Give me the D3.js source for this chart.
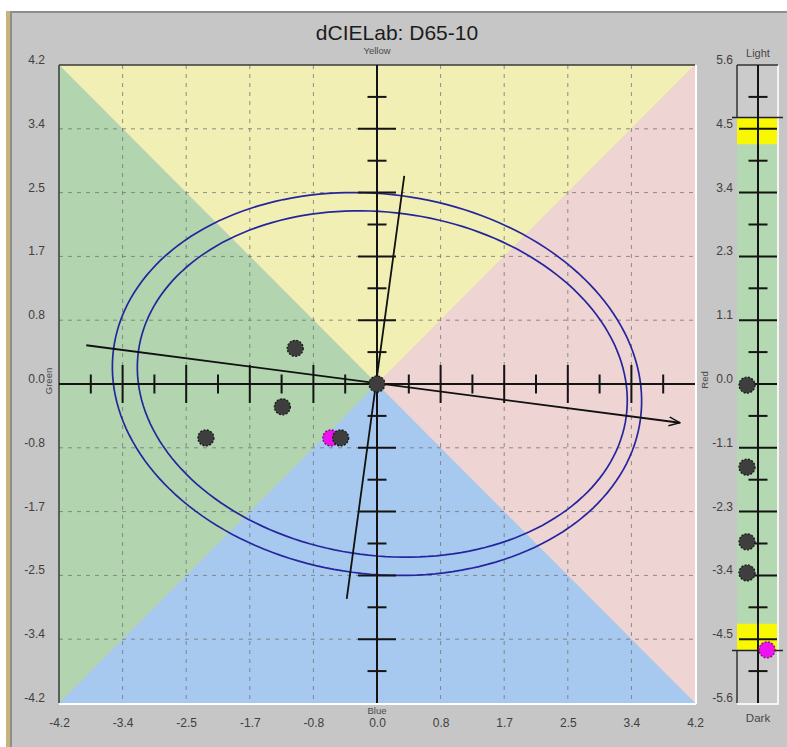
<!DOCTYPE html>
<html>
<head>
<meta charset="utf-8">
<script src="https://cdn.jsdelivr.net/npm/d3@7"></script>
<style>
  html, body { margin: 0; padding: 0; background: #ffffff; }
  svg { display: block; font-family: "Liberation Sans", Arial, sans-serif; }
</style>
</head>
<body>
<div id="chart"></div>
<script>
// ---- data ----
const abTicks = [-4.2, -3.36, -2.52, -1.68, -0.84, 0, 0.84, 1.68, 2.52, 3.36, 4.2];
const lTicks = [-5.64, -4.512, -3.384, -2.256, -1.128, 0, 1.128, 2.256, 3.384, 4.512, 5.64];
const hueNames = ["Yellow", "Red", "Blue", "Green"];
const lightNames = ["Light", "Dark"];

// batch samples (da*, db*, dL*)
const sampleA = [0, -1.08, -1.25, -2.26, -0.48];
const sampleB = [0, 0.47, -0.30, -0.71, -0.71];
const sampleL = [-0.02, -1.47, -2.79, -3.34];
// reference sample
const refA = [-0.61];
const refB = [-0.71];
const refL = [-4.70];

// tolerance ellipses (semi-axes in dE units, rotation in degrees)
const ellipseSemiMajor = [3.51, 3.25];
const ellipseSemiMinor = [2.50, 2.26];
const ellipseCenterA = [0, 0.07];
const ellipseAngle = [-7.5, -7.5];

// principal axis lines
const majorAxisEnds = [[-3.84, 0.51], [4.0, -0.51]];
const minorAxisEnds = [[-0.40, -2.83], [0.36, 2.74]];

// lightness tolerance band and limit
const lBand = [4.24, 4.70];
const lLimit = 4.71;

// ---- layout ----
const W = 787, H = 747;
const svg = d3.select("#chart").append("svg").attr("width", W).attr("height", H);

const x = d3.scaleLinear().domain([-4.2, 4.2]).range([59, 695]);
const y = d3.scaleLinear().domain([-4.2, 4.2]).range([703, 65]);
const yL = d3.scaleLinear().domain([-5.64, 5.64]).range([703, 65]);
const lAxisX = 758, lPanelL = 737, lPanelR = 778;

// window frame
svg.append("rect").attr("x", 0).attr("y", 0).attr("width", W).attr("height", H).attr("fill", "#ffffff");
svg.append("rect").attr("x", 6).attr("y", 11).attr("width", W - 6).attr("height", H - 11).attr("fill", "#c6b47c");
svg.append("rect").attr("x", 10).attr("y", 11).attr("width", W - 10).attr("height", H - 11).attr("fill", "#8e8e8e");
svg.append("rect").attr("x", 12).attr("y", 13).attr("width", W - 12).attr("height", H - 13).attr("fill", "#c6c6c6");

// title
svg.append("text").attr("x", 397).attr("y", 40).attr("text-anchor", "middle")
  .attr("font-size", 21).attr("fill", "#1c1c1c").text("dCIELab: D65-10");

// ---- a*b* plane ----
const plot = svg.append("g");
const c = [0, 0];
const TL = [-4.2, 4.2], TR = [4.2, 4.2], BR = [4.2, -4.2], BL = [-4.2, -4.2];
const quadrants = [
  { pts: [TL, TR, c], fill: "#f1efb3" },
  { pts: [TR, BR, c], fill: "#efd4d4" },
  { pts: [BR, BL, c], fill: "#a8c9ef" },
  { pts: [BL, TL, c], fill: "#b2d5b0" }
];
plot.selectAll("path.quad").data(quadrants).join("path")
  .attr("class", "quad")
  .attr("d", d => "M" + d.pts.map(p => x(p[0]) + "," + y(p[1])).join("L") + "Z")
  .attr("fill", d => d.fill);

// dashed grid
const gridVals = abTicks.filter(v => Math.abs(v) < 4.2 && v !== 0);
plot.selectAll("line.gx").data(gridVals).join("line")
  .attr("x1", d => x(d)).attr("x2", d => x(d)).attr("y1", y(4.2)).attr("y2", y(-4.2))
  .attr("stroke", "#6f6f6f").attr("stroke-opacity", 0.75).attr("stroke-dasharray", "4,5");
plot.selectAll("line.gy").data(gridVals).join("line")
  .attr("y1", d => y(d)).attr("y2", d => y(d)).attr("x1", x(-4.2)).attr("x2", x(4.2))
  .attr("stroke", "#6f6f6f").attr("stroke-opacity", 0.75).attr("stroke-dasharray", "4,5");

// plot border: sunken look
plot.append("line").attr("x1", x(-4.2)).attr("x2", x(4.2)).attr("y1", y(4.2)).attr("y2", y(4.2))
  .attr("stroke", "#3a3a3a").attr("stroke-width", 1.5);
plot.append("line").attr("x1", x(-4.2)).attr("x2", x(-4.2)).attr("y1", y(4.2)).attr("y2", y(-4.2))
  .attr("stroke", "#3a3a3a").attr("stroke-width", 1.5);
plot.append("line").attr("x1", x(-4.2)).attr("x2", x(4.2) + 1).attr("y1", y(-4.2) + 1).attr("y2", y(-4.2) + 1)
  .attr("stroke", "#ffffff").attr("stroke-width", 2);
plot.append("line").attr("x1", x(4.2) + 1).attr("x2", x(4.2) + 1).attr("y1", y(4.2)).attr("y2", y(-4.2) + 1)
  .attr("stroke", "#ffffff").attr("stroke-width", 2);

// tolerance ellipses
const ellLine = d3.line().x(p => x(p[0])).y(p => y(p[1]));
const tSteps = d3.range(0, 361, 2).map(t => t * Math.PI / 180);
const ellipses = ellipseSemiMajor.map((a, i) => {
  const b = ellipseSemiMinor[i], th = ellipseAngle[i] * Math.PI / 180, ca = ellipseCenterA[i];
  return tSteps.map(t => [
    ca + a * Math.cos(t) * Math.cos(th) - b * Math.sin(t) * Math.sin(th),
    a * Math.cos(t) * Math.sin(th) + b * Math.sin(t) * Math.cos(th)
  ]);
});
plot.selectAll("path.ell").data(ellipses).join("path")
  .attr("class", "ell").attr("d", ellLine)
  .attr("fill", "none").attr("stroke", "#26269c").attr("stroke-width", 1.7);

// cross axes with ticks
const axisStroke = "#141414";
plot.append("line").attr("x1", x(-4.2)).attr("x2", x(4.2)).attr("y1", y(0)).attr("y2", y(0))
  .attr("stroke", axisStroke).attr("stroke-width", 2);
plot.append("line").attr("x1", x(0)).attr("x2", x(0)).attr("y1", y(4.2)).attr("y2", y(-4.2))
  .attr("stroke", axisStroke).attr("stroke-width", 2);
const majorTicks = abTicks.filter(v => Math.abs(v) < 4.2 && v !== 0);
const minorTicks = abTicks.slice(0, -1).map((v, i) => (v + abTicks[i + 1]) / 2);
const crossTicks = majorTicks.map(v => ({ v, len: 19 })).concat(minorTicks.map(v => ({ v, len: 9.5 })));
plot.selectAll("line.tx").data(crossTicks).join("line")
  .attr("x1", d => x(d.v)).attr("x2", d => x(d.v))
  .attr("y1", d => y(0) - d.len).attr("y2", d => y(0) + d.len)
  .attr("stroke", axisStroke).attr("stroke-width", 2);
plot.selectAll("line.ty").data(crossTicks).join("line")
  .attr("y1", d => y(d.v)).attr("y2", d => y(d.v))
  .attr("x1", d => x(0) - d.len).attr("x2", d => x(0) + d.len)
  .attr("stroke", axisStroke).attr("stroke-width", 2);

// principal axis lines
const defs = svg.append("defs");
defs.append("marker").attr("id", "arrowOpen").attr("viewBox", "0 0 12 12")
  .attr("refX", 11).attr("refY", 6).attr("markerWidth", 12).attr("markerHeight", 12)
  .attr("markerUnits", "userSpaceOnUse").attr("orient", "auto")
  .append("path").attr("d", "M0,1.5 L11,6 L0,10.5").attr("fill", "none")
  .attr("stroke", "#111").attr("stroke-width", 1.4);
plot.append("path").attr("d", ellLine(majorAxisEnds)).attr("fill", "none")
  .attr("stroke", "#111").attr("stroke-width", 1.8).attr("marker-end", "url(#arrowOpen)");
plot.append("path").attr("d", ellLine(minorAxisEnds)).attr("fill", "none")
  .attr("stroke", "#111").attr("stroke-width", 1.8);

// sample points
const dotR = 8;
const refPts = refA.map((a, i) => ({ a, b: refB[i] }));
const samplePts = sampleA.map((a, i) => ({ a, b: sampleB[i] }));
plot.selectAll("circle.ref").data(refPts).join("circle")
  .attr("cx", d => x(d.a)).attr("cy", d => y(d.b)).attr("r", dotR)
  .attr("fill", "#f011f0").attr("stroke", "#6a1a6a").attr("stroke-width", 1.3).attr("stroke-dasharray", "2,1.5");
plot.selectAll("circle.smp").data(samplePts).join("circle")
  .attr("cx", d => x(d.a)).attr("cy", d => y(d.b)).attr("r", dotR)
  .attr("fill", "#3e3e3e").attr("stroke", "#1a1a1a").attr("stroke-width", 1.3).attr("stroke-dasharray", "2,1.5");

// tick labels
function styleAxis(g) {
  g.select(".domain").remove();
  g.attr("font-family", "'Liberation Sans', Arial, sans-serif").attr("font-size", 12);
  g.selectAll("text").attr("fill", "#404040");
}
const fmt = v => v.toFixed(1);
svg.append("g").attr("transform", `translate(${x(-4.2)},0)`)
  .call(d3.axisLeft(y).tickValues(abTicks).tickSize(0).tickPadding(14).tickFormat(fmt))
  .call(styleAxis)
  .call(g => g.selectAll("text").attr("dy", null).attr("y", -1.5));
svg.append("g").attr("transform", `translate(0,${y(-4.2)})`)
  .call(d3.axisBottom(x).tickValues(abTicks).tickSize(0).tickPadding(0).tickFormat(fmt))
  .call(styleAxis)
  .call(g => g.selectAll("text").attr("dy", null).attr("y", 24));

// hue direction labels
const hueStyle = sel => sel.attr("font-size", 9.5).attr("fill", "#4a4a4a").attr("text-anchor", "middle");
svg.append("text").attr("x", x(0)).attr("y", 54).text(hueNames[0]).call(hueStyle);
svg.append("text").attr("x", x(0)).attr("y", 714).text(hueNames[2]).call(hueStyle);
svg.append("text").attr("transform", `translate(52,${y(0) - 3}) rotate(-90)`).text(hueNames[3]).call(hueStyle);
svg.append("text").attr("transform", `translate(708,${y(0) - 4}) rotate(-90)`).text(hueNames[1]).call(hueStyle);

// ---- lightness bar ----
const lp = svg.append("g");
lp.append("rect").attr("x", lPanelL).attr("y", yL(5.64)).attr("width", lPanelR - lPanelL)
  .attr("height", yL(-5.64) - yL(5.64)).attr("fill", "#cbcbcb");
lp.append("rect").attr("x", lPanelL).attr("y", yL(lBand[0])).attr("width", lPanelR - lPanelL)
  .attr("height", yL(-lBand[0]) - yL(lBand[0])).attr("fill", "#b4d8b2");
[[lBand[1], lBand[0]], [-lBand[0], -lBand[1]]].forEach(r => {
  lp.append("rect").attr("x", lPanelL).attr("y", yL(r[0])).attr("width", lPanelR - lPanelL)
    .attr("height", yL(r[1]) - yL(r[0])).attr("fill", "#f8f800");
});
// panel edges
lp.append("line").attr("x1", lPanelR).attr("x2", lPanelR).attr("y1", yL(5.64)).attr("y2", yL(-5.64) + 1)
  .attr("stroke", "#f4f4f4").attr("stroke-width", 2);
lp.append("line").attr("x1", lPanelL).attr("x2", lPanelR + 1).attr("y1", yL(-5.64) + 1).attr("y2", yL(-5.64) + 1)
  .attr("stroke", "#f4f4f4").attr("stroke-width", 2);
lp.append("line").attr("x1", lPanelL).attr("x2", lPanelR).attr("y1", yL(5.64)).attr("y2", yL(5.64))
  .attr("stroke", "#333").attr("stroke-width", 1.5);
// limit brackets
lp.append("line").attr("x1", lPanelL).attr("x2", lPanelL).attr("y1", yL(5.64)).attr("y2", yL(lLimit))
  .attr("stroke", "#333").attr("stroke-width", 1.5);
lp.append("line").attr("x1", lPanelL).attr("x2", lPanelL).attr("y1", yL(-lLimit)).attr("y2", yL(-5.64))
  .attr("stroke", "#333").attr("stroke-width", 1.5);
[lLimit, -lLimit].forEach(v => {
  lp.append("line").attr("x1", lPanelL - 5).attr("x2", lPanelR + 5).attr("y1", yL(v)).attr("y2", yL(v))
    .attr("stroke", "#222").attr("stroke-width", 1.5);
});
// axis and ticks
lp.append("line").attr("x1", lAxisX).attr("x2", lAxisX).attr("y1", yL(5.64)).attr("y2", yL(-5.64))
  .attr("stroke", axisStroke).attr("stroke-width", 2);
const lMajor = lTicks.filter(v => Math.abs(v) < 5.64);
const lMinor = lTicks.slice(0, -1).map((v, i) => (v + lTicks[i + 1]) / 2);
const lTickData = lMajor.map(v => ({ v, len: 19 })).concat(lMinor.map(v => ({ v, len: 9.5 })));
lp.selectAll("line.lt").data(lTickData).join("line")
  .attr("x1", d => lAxisX - d.len).attr("x2", d => lAxisX + d.len)
  .attr("y1", d => yL(d.v)).attr("y2", d => yL(d.v))
  .attr("stroke", axisStroke).attr("stroke-width", 2);
// lightness points
lp.selectAll("circle.lsmp").data(sampleL).join("circle")
  .attr("cx", lAxisX - 11).attr("cy", d => yL(d)).attr("r", dotR)
  .attr("fill", "#3e3e3e").attr("stroke", "#1a1a1a").attr("stroke-width", 1.3).attr("stroke-dasharray", "2,1.5");
lp.selectAll("circle.lref").data(refL).join("circle")
  .attr("cx", lAxisX + 9).attr("cy", d => yL(d)).attr("r", dotR)
  .attr("fill", "#f011f0").attr("stroke", "#6a1a6a").attr("stroke-width", 1.3).attr("stroke-dasharray", "2,1.5");

svg.append("g").attr("transform", `translate(${lPanelL},0)`)
  .call(d3.axisLeft(yL).tickValues(lTicks).tickSize(0).tickPadding(4).tickFormat(fmt))
  .call(styleAxis)
  .call(g => g.selectAll("text").attr("dy", null).attr("y", -1.5));

svg.append("text").attr("x", lAxisX).attr("y", 57).attr("text-anchor", "middle")
  .attr("font-size", 11).attr("fill", "#474747").text(lightNames[0]);
svg.append("text").attr("x", lAxisX).attr("y", 722).attr("text-anchor", "middle")
  .attr("font-size", 11.5).attr("fill", "#474747").text(lightNames[1]);
</script>
</body>
</html>
